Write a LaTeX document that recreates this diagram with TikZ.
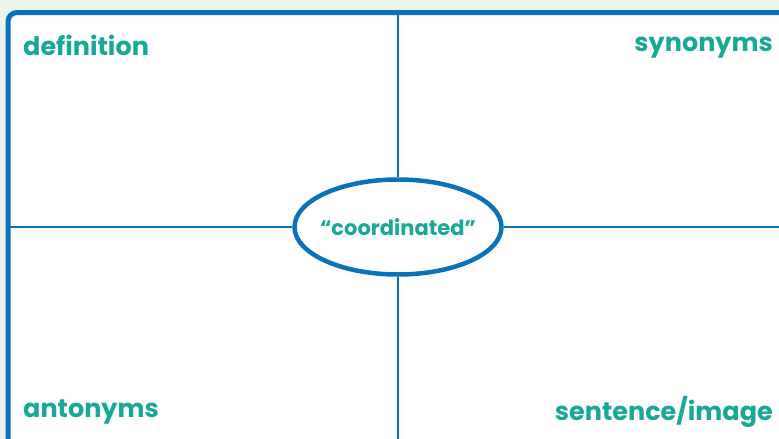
\documentclass[tikz,border=0pt]{standalone}
\usepackage{fontspec}
\setmainfont{Poppins}
\usetikzlibrary{positioning,shapes.geometric}
\definecolor{frameBlue}{HTML}{0A72BA}
\definecolor{wordTeal}{HTML}{17A898}
\definecolor{paleGreen}{HTML}{EAF4E8}

\begin{document}
\begin{tikzpicture}[x=1pt,y=-1pt,
    corner/.style={text=wordTeal,font=\fontsize{25.5}{27}\selectfont\bfseries,inner sep=0pt},
    grid line/.style={frameBlue,line width=2pt}]
  \useasboundingbox (0,0) rectangle (779,439);
  \fill[paleGreen] (0,0) rectangle (779,439);
  \begin{scope}
    \clip (0,0) rectangle (779,439);
    \draw[frameBlue,fill=white,line width=5pt,rounded corners=9pt] (8,12.5) rectangle (810,470);
    % quadrant lines
    \coordinate (top) at (398,12.5);
    \coordinate (bottom) at (398,445);
    \coordinate (left) at (8,227);
    \coordinate (right) at (785,227);
    \node[ellipse,draw=frameBlue,line width=4.5pt,fill=white,inner sep=0pt,
      minimum width=207pt,minimum height=95pt,
      text=wordTeal,font=\fontsize{21}{23}\selectfont\bfseries] (word) at (398,227)
      {\makebox[0pt]{“coordinated”}};
    \draw[grid line] (top) -- (word.north);
    \draw[grid line] (word.south) -- (bottom);
    \draw[grid line] (left) -- (word.west);
    \draw[grid line] (word.east) -- (right);
  \end{scope}
  \node[corner,anchor=west] (definition) at (23,45) {definition};
  \node[corner,anchor=east] (synonyms) at (773,48) {synonyms};
  \node[corner,anchor=west] (antonyms) at (23,412) {antonyms};
  \node[corner,anchor=east] (sentence) at (773,412) {sentence/image};
\end{tikzpicture}
\end{document}
